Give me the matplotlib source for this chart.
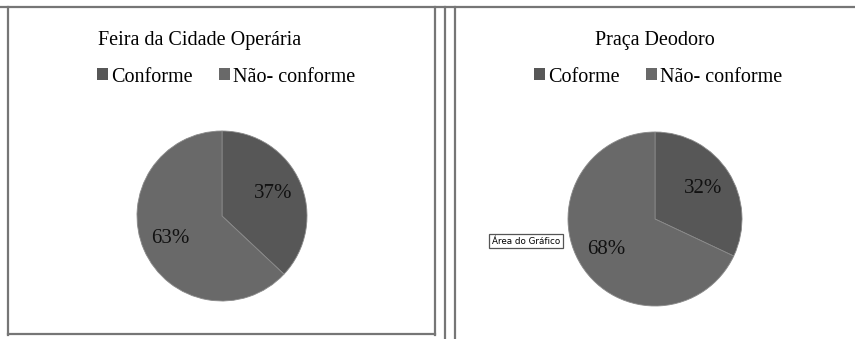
import matplotlib.pyplot as plt
from matplotlib.lines import Line2D
from matplotlib.patches import Patch

plt.rcParams['font.family'] = ['Liberation Serif', 'DejaVu Serif']

W, H = 855, 339

titles = ['Feira da Cidade Operária', 'Praça Deodoro']
labels_left = ['Conforme', 'Não- conforme']
labels_right = ['Coforme', 'Não- conforme']
values_left = [37, 63]
values_right = [32, 68]
colors = ['#575757', '#696969']

fig = plt.figure(figsize=(W / 100, H / 100), dpi=100)


def px(x0, y0, w, h):
    # pixel box (top-left origin) -> figure fraction
    return [x0 / W, (H - y0 - h) / H, w / W, h / H]


def fline(xs, ys, c='#767676', lw=1.6):
    fig.add_artist(Line2D([x / W for x in xs], [1 - y / H for y in ys],
                          color=c, lw=lw))


# panel frames
fline([0, W], [7, 7])
fline([8, 8], [7, 335])
fline([8, 435], [334, 334])
fline([435, 435], [7, 335])
fline([445, 445], [7, H])
fline([455, 455], [7, H])


def panel(cx, cy, r, vals, labs, title, tx, lx):
    ax = fig.add_axes(px(cx - r, cy - r, 2 * r, 2 * r))
    ax.pie(vals, colors=colors, startangle=90, counterclock=False,
           autopct='%d%%', pctdistance=0.66,
           wedgeprops=dict(edgecolor='#8a8a8a', linewidth=0.6),
           textprops=dict(fontsize=15, color='#111111'))
    ax.set_xlim(-1, 1)
    ax.set_ylim(-1, 1)
    ax.set_aspect('equal')
    fig.text(tx / W, 1 - 40 / H, title, ha='center', va='center', fontsize=14.5)
    handles = [Patch(facecolor=c, edgecolor='none') for c in colors]
    fig.legend(handles, labs, loc='center', bbox_to_anchor=(lx / W, 1 - 77 / H),
               ncol=2, frameon=False, fontsize=14.5, handlelength=0.55, handleheight=0.55,
               handletextpad=0.15, columnspacing=1.3)


panel(222, 216, 85, values_left, labels_left, titles[0], 200, 226)
panel(655, 219, 87, values_right, labels_right, titles[1], 655, 658)

# tooltip from the original screenshot
fig.text(526 / W, 1 - 241 / H, 'Área do Gráfico', ha='center', va='center',
         fontsize=6.3, family=['DejaVu Sans'],
         bbox=dict(facecolor='white', edgecolor='#555555', lw=0.9, pad=1.8))

fig.savefig('out.png', dpi=100)
